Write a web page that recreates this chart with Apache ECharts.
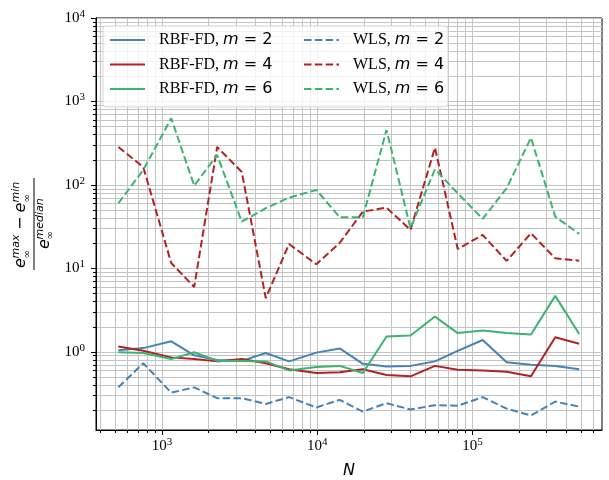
<!DOCTYPE html>
<html>
<head>
<meta charset="utf-8">
<script src="https://cdn.jsdelivr.net/npm/echarts@6/dist/echarts.min.js"></script>
<style>html,body{margin:0;padding:0;background:#fff}#c{width:609px;height:480px}</style>
</head>
<body>
<div id="c"></div>
<script>
// ---- data ----
const N = [524, 758, 1148, 1614, 2268, 3269, 4666, 6586, 9883, 13955, 19703, 27986, 39930, 57400, 80440, 116500, 166200, 238500, 341900, 487700];
const rbf2 = [1.05, 1.11, 1.34, 0.91, 0.80, 0.78, 0.97, 0.77, 0.98, 1.10, 0.72, 0.67, 0.68, 0.77, 1.03, 1.39, 0.75, 0.70, 0.68, 0.62];
const rbf4 = [1.16, 1.03, 0.86, 0.82, 0.77, 0.82, 0.73, 0.62, 0.56, 0.57, 0.62, 0.53, 0.51, 0.68, 0.61, 0.60, 0.58, 0.51, 1.50, 1.25];
const rbf6 = [0.99, 0.97, 0.82, 0.99, 0.78, 0.78, 0.77, 0.60, 0.66, 0.68, 0.56, 1.53, 1.57, 2.65, 1.68, 1.80, 1.68, 1.62, 4.69, 1.64];
const wls2 = [0.378, 0.732, 0.325, 0.376, 0.279, 0.279, 0.238, 0.287, 0.216, 0.266, 0.193, 0.243, 0.204, 0.230, 0.226, 0.287, 0.209, 0.173, 0.254, 0.221];
const wls4 = [285, 164, 11.6, 6.0, 285, 143, 4.4, 19.6, 11.2, 20.2, 47.9, 53.5, 28.9, 280, 17.1, 25.2, 12.3, 26.4, 13.2, 12.4];
const wls6 = [60.4, 151, 629, 98, 229, 36.3, 52.6, 70.5, 87.1, 41, 41, 456, 30.3, 154, 79.6, 39.2, 91.3, 368, 41.7, 25.9];
const seriesNames = ['RBF-FD, m = 2', 'RBF-FD, m = 4', 'RBF-FD, m = 6', 'WLS, m = 2', 'WLS, m = 4', 'WLS, m = 6'];
const xMajor = [1e3, 1e4, 1e5];
const yMajor = [1, 10, 100, 1000, 10000];

// ---- helpers ----
function minorList(lo, hi) {
  const out = [];
  for (let e = -2; e <= 7; e++) for (let k = 1; k <= 9; k++) {
    const v = k * Math.pow(10, e);
    if (v >= lo && v <= hi) out.push(+v.toPrecision(3));
  }
  return out;
}
const X_MIN = 376, X_MAX = 684000, Y_MIN = 0.116, Y_MAX = 10000;
const xAll = minorList(X_MIN, X_MAX);
const yAll = minorList(Y_MIN, Y_MAX);

const colors = ['#4682b4', '#b22222', '#3cb371', '#4682b4', '#b22222', '#3cb371'];
const values = [rbf2, rbf4, rbf6, wls2, wls4, wls6];
const supRich = {
  b: {fontFamily: 'Liberation Serif', fontSize: 15, color: '#000', lineHeight: 19},
  s: {fontFamily: 'Liberation Serif', fontSize: 11, color: '#000', lineHeight: 11, verticalAlign: 'top'}
};
const powFmt = v => '{b|10}{s|' + Math.round(Math.log10(v)) + '}';
const gridLine = {show: true, lineStyle: {color: '#c4c4c4', width: 1}};

const series = values.map((arr, i) => ({
  name: seriesNames[i],
  type: 'line',
  xAxisIndex: 0, yAxisIndex: 0,
  symbol: 'none',
  showSymbol: false,
  smooth: false,
  z: 2 + i * 0.01,
  lineStyle: {color: colors[i], width: 2, type: i >= 3 ? [7.5, 3.3] : 'solid'},
  itemStyle: {color: colors[i]},
  data: N.map((n, j) => [n, arr[j]])
}));

const legendRich = {
  a: {fontFamily: 'Liberation Serif', fontSize: 16, color: '#000', padding: [0, 0, 0, 9], lineHeight: 16},
  m: {fontFamily: 'DejaVu Sans', fontStyle: 'italic', fontSize: 16, color: '#000', lineHeight: 16},
  q: {fontFamily: 'DejaVu Sans', fontSize: 16, color: '#000', lineHeight: 16}
};
const legendFmt = name => {
  const parts = name.split(', m');
  return '{a|' + parts[0] + ', }{m|m}{q|' + parts[1] + '}';
};
const legendBase = {
  orient: 'vertical', itemWidth: 35, itemHeight: 14, itemGap: 8.5, top: 32,
  padding: 0, z: 10, selectedMode: false,
  itemStyle: {opacity: 0},
  formatter: legendFmt, textStyle: {rich: legendRich}
};

// y-label fraction (rotated group); y values are visual centres
const T = (text, x, y, size, italic) => ({
  type: 'text', x: x, y: y,
  style: {text: text, fontFamily: 'DejaVu Sans', fontStyle: italic ? 'italic' : 'normal',
          fontSize: size, fill: '#000', textAlign: 'left', textVerticalAlign: 'middle'}
});
const ylabel = {
  type: 'group', x: 34, y: 224, rotation: Math.PI / 2,
  children: [
    // numerator
    T('e', -44, -13.6, 16, true), T('max', -34.5, -18, 11, true), T('\u221e', -34.5, -6.5, 10, false),
    T('\u2212', -6, -13.6, 16, false),
    T('e', 11.5, -13.6, 16, true), T('min', 21.5, -18, 11, true), T('\u221e', 21.5, -6.5, 10, false),
    {type: 'line', shape: {x1: -46, y1: 0, x2: 46, y2: 0}, style: {stroke: '#000', lineWidth: 1}},
    // denominator
    T('e', -25, 10.4, 16, true), T('median', -15.5, 6.2, 11, true), T('\u221e', -15.5, 16.5, 10, false)
  ]
};

const option = {
  animation: false,
  backgroundColor: '#fff',
  grid: {left: 96, right: 7, top: 18, bottom: 50, show: true, borderColor: '#000', borderWidth: 1,
         backgroundColor: 'transparent', containLabel: false, outerBoundsMode: 'none'},
  xAxis: [
    {type: 'log', logBase: 10, min: X_MIN, max: X_MAX, position: 'bottom',
     axisLine: {show: true, lineStyle: {color: '#000', width: 1}},
     axisTick: {show: true, customValues: xAll, length: 3, lineStyle: {color: '#000', width: 1}},
     axisLabel: {show: false},
     splitLine: gridLine, minorTick: {show: false},
     name: 'N', nameLocation: 'middle', nameGap: 33,
     nameTextStyle: {fontFamily: 'DejaVu Sans', fontStyle: 'italic', fontSize: 16, color: '#000'}},
    {type: 'log', logBase: 10, min: X_MIN, max: X_MAX, position: 'bottom',
     axisLine: {show: false},
     axisTick: {show: true, customValues: xMajor, length: 5, lineStyle: {color: '#000', width: 1}},
     axisLabel: {show: true, customValues: xMajor, margin: 7, formatter: powFmt, rich: supRich},
     splitLine: {show: false}}
  ],
  yAxis: [
    {type: 'log', logBase: 10, min: Y_MIN, max: Y_MAX, position: 'left',
     axisLine: {show: true, lineStyle: {color: '#000', width: 1}},
     axisTick: {show: true, customValues: yAll, length: 3, lineStyle: {color: '#000', width: 1}},
     axisLabel: {show: false},
     splitLine: gridLine},
    {type: 'log', logBase: 10, min: Y_MIN, max: Y_MAX, position: 'left',
     axisLine: {show: false},
     axisTick: {show: true, customValues: yMajor, length: 5, lineStyle: {color: '#000', width: 1}},
     axisLabel: {show: true, customValues: yMajor, margin: 11, formatter: powFmt, rich: supRich},
     splitLine: {show: false}}
  ],
  legend: [
    Object.assign({}, legendBase, {left: 109, data: seriesNames.slice(0, 3)}),
    Object.assign({}, legendBase, {left: 303, data: seriesNames.slice(3)})
  ],
  graphic: [
    {type: 'rect', z: 8, shape: {x: 103, y: 26, width: 345, height: 81, r: 3},
     style: {fill: 'rgba(255,255,255,0.8)', stroke: '#d6d6d6', lineWidth: 1}},
    ylabel
  ],
  series: series
};

const chart = echarts.init(document.getElementById('c'), null, {renderer: 'canvas'});
chart.setOption(option);
</script>
</body>
</html>
